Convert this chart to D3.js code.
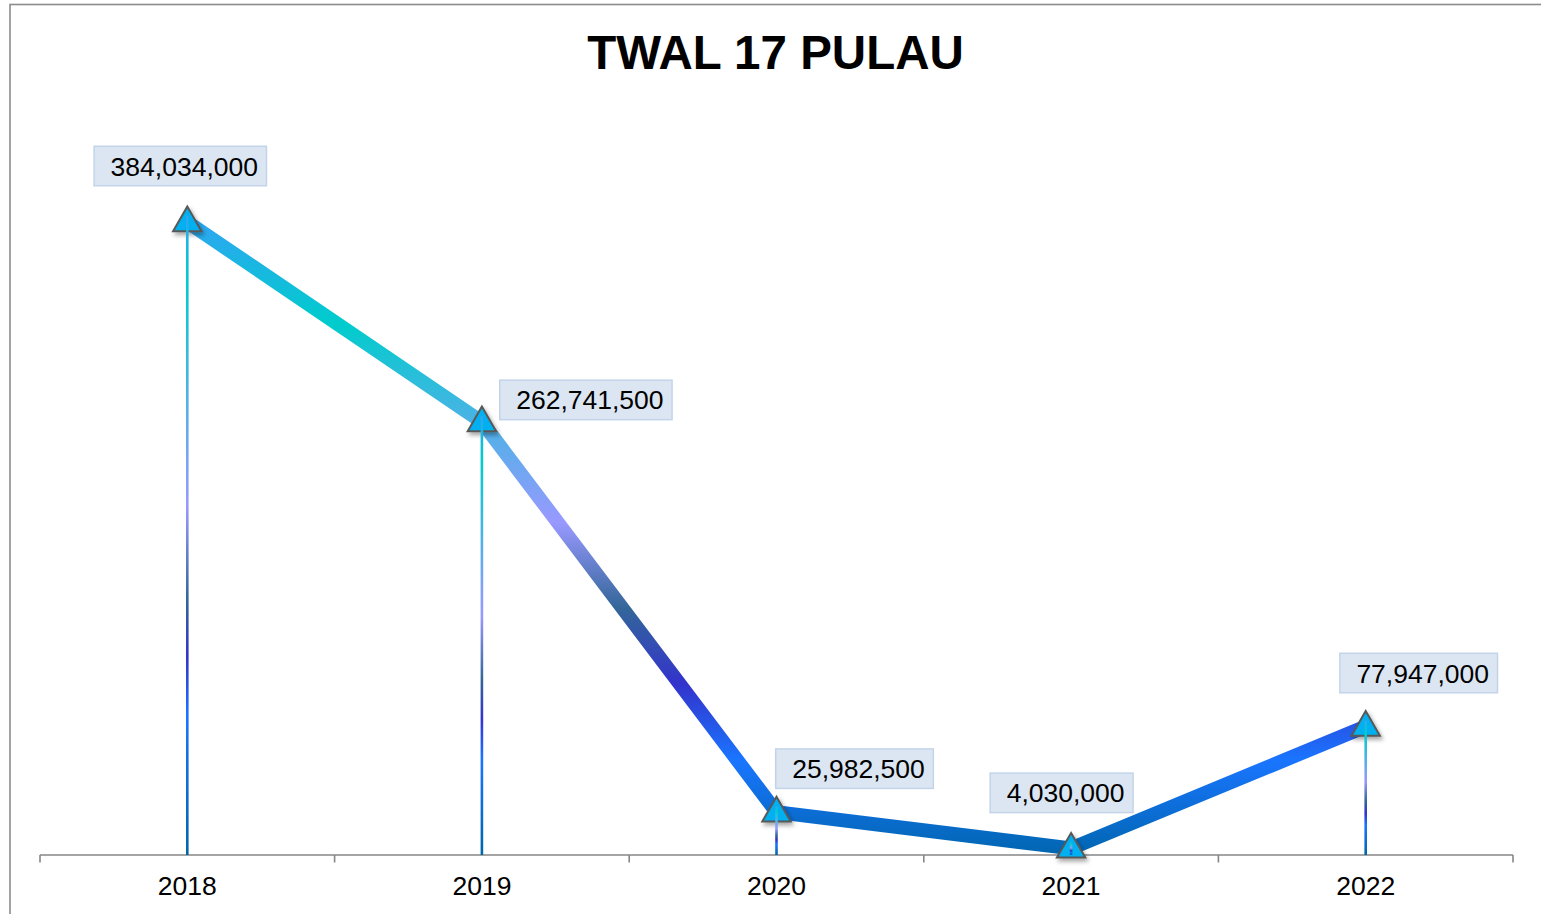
<!DOCTYPE html>
<html>
<head>
<meta charset="utf-8">
<script src="https://cdn.jsdelivr.net/npm/d3@7"></script>
<style>
  html, body { margin: 0; padding: 0; background: #ffffff; }
  svg { display: block; font-family: "Liberation Sans", Arial, sans-serif; }
</style>
</head>
<body>
<svg id="chart" width="1541" height="914"></svg>
<script>
// Series: yearly totals for TWAL 17 Pulau
const chartTitle = "TWAL 17 PULAU";
const years = ["2018", "2019", "2020", "2021", "2022"];
const values = [384034000, 262741500, 25982500, 4030000, 77947000];
const yDomain = [0, 450000000];

const W = 1541, H = 914;
const svg = d3.select("#chart");
const defs = svg.append("defs");

// Frame around the chart area
svg.append("rect")
  .attr("x", 10).attr("y", 4.5)
  .attr("width", W).attr("height", H)
  .attr("fill", "#ffffff")
  .attr("stroke", "#8c8c8c").attr("stroke-width", 1.6);

const plot = { left: 40, right: 1513, top: 113.3, bottom: 855 };

const x = d3.scaleBand().domain(years).range([plot.left, plot.right]).padding(0);
const y = d3.scaleLinear().domain(yDomain).range([plot.bottom, plot.top]);
const cx = d => x(d) + x.bandwidth() / 2;

const fmt = d3.format(",");

// Vertical gradients for the series line and the drop lines
const lineStops = [
  [0, "#2ea6f2"], [0.16, "#00cccc"], [0.475, "#9999ff"], [0.61, "#336699"],
  [0.73, "#3333cc"], [0.85, "#1a75ff"], [1, "#0066b0"]
];
const dropStops = [
  [0, "#2ea6f2"], [0.10, "#00cccc"], [0.455, "#9999ff"], [0.60, "#336699"],
  [0.69, "#3333cc"], [0.78, "#1a75ff"], [1, "#0066aa"]
];

const lg = defs.append("linearGradient")
  .attr("id", "lineGrad")
  .attr("gradientUnits", "userSpaceOnUse")
  .attr("x1", 0).attr("x2", 0)
  .attr("y1", y(d3.max(values))).attr("y2", y(0));
lg.selectAll("stop").data(lineStops).join("stop")
  .attr("offset", d => d[0]).attr("stop-color", d => d[1]);

const dg = defs.append("linearGradient")
  .attr("id", "dropGrad")
  .attr("x1", 0).attr("x2", 0).attr("y1", 0).attr("y2", 1);
dg.selectAll("stop").data(dropStops).join("stop")
  .attr("offset", d => d[0]).attr("stop-color", d => d[1]);

const shadow = defs.append("filter").attr("id", "mkShadow")
  .attr("x", "-50%").attr("y", "-50%").attr("width", "200%").attr("height", "200%");
shadow.append("feDropShadow")
  .attr("dx", 2).attr("dy", 3).attr("stdDeviation", 2)
  .attr("flood-color", "#000").attr("flood-opacity", 0.35);

// Title
svg.append("text")
  .attr("x", 775.5).attr("y", 69)
  .attr("text-anchor", "middle")
  .attr("font-size", 47.5).attr("font-weight", "bold")
  .attr("fill", "#000")
  .text(chartTitle);

// Category axis with ticks on band boundaries
const axisG = svg.append("g");
axisG.append("line")
  .attr("x1", plot.left).attr("x2", plot.right)
  .attr("y1", plot.bottom).attr("y2", plot.bottom)
  .attr("stroke", "#868686").attr("stroke-width", 1.6);
const boundaries = years.map(d => x(d)).concat([x(years[years.length - 1]) + x.bandwidth()]);
axisG.selectAll("line.tick").data(boundaries).join("line")
  .attr("class", "tick")
  .attr("x1", d => d).attr("x2", d => d)
  .attr("y1", plot.bottom).attr("y2", plot.bottom + 7.5)
  .attr("stroke", "#868686").attr("stroke-width", 1.6);
axisG.selectAll("text").data(years).join("text")
  .attr("x", d => cx(d)).attr("y", 894.5)
  .attr("text-anchor", "middle")
  .attr("font-size", 26.5).attr("fill", "#000")
  .text(d => d);

const pts = years.map((d, i) => ({ year: d, value: values[i] }));

// Series line
svg.append("path")
  .datum(pts)
  .attr("d", d3.line().x(d => cx(d.year)).y(d => y(d.value)))
  .attr("fill", "none")
  .attr("stroke", "url(#lineGrad)")
  .attr("stroke-width", 14)
  .attr("stroke-linejoin", "round");

// Triangle markers
const tri = d3.symbol().type(d3.symbolTriangle).size(350);
svg.selectAll("path.marker").data(pts).join("path")
  .attr("class", "marker")
  .attr("transform", d => `translate(${cx(d.year)},${y(d.value) + 1})`)
  .attr("d", tri)
  .attr("fill", "#00b0f0")
  .attr("stroke", "#595959").attr("stroke-width", 2)
  .attr("filter", "url(#mkShadow)");

// Drop lines from each point to the axis
svg.selectAll("rect.drop").data(pts).join("rect")
  .attr("class", "drop")
  .attr("x", d => cx(d.year) - 1.3)
  .attr("width", 2.6)
  .attr("y", d => y(d.value) - 6)
  .attr("height", d => Math.max(plot.bottom - y(d.value) + 6, 0.1))
  .attr("fill", "url(#dropGrad)");

// Data labels (offset of the label box's centre from its point)
const labelOffsets = [
  { dx: -7, dy: -56 },
  { dx: 104, dy: -22 },
  { dx: 78, dy: -43.5 },
  { dx: -9.5, dy: -55.5 },
  { dx: 53, dy: -53.5 }
];
const labels = svg.selectAll("g.label").data(pts).join("g").attr("class", "label");
labels.each(function(d, i) {
  const g = d3.select(this);
  const px = cx(d.year) + labelOffsets[i].dx;
  const py = y(d.value) + labelOffsets[i].dy;
  const t = g.append("text")
    .attr("font-size", 26.5).attr("fill", "#000")
    .attr("text-anchor", "middle")
    .attr("x", px + 4).attr("y", py + 9.5)
    .text(fmt(d.value));
  const w = t.node().getComputedTextLength();
  const bw = w + 25, bh = 39.5;
  g.insert("rect", "text")
    .attr("x", px - bw / 2).attr("y", py - bh / 2)
    .attr("width", bw).attr("height", bh)
    .attr("fill", "#dce6f2")
    .attr("stroke", "#c3d4ea").attr("stroke-width", 1.5);
});
</script>
</body>
</html>
